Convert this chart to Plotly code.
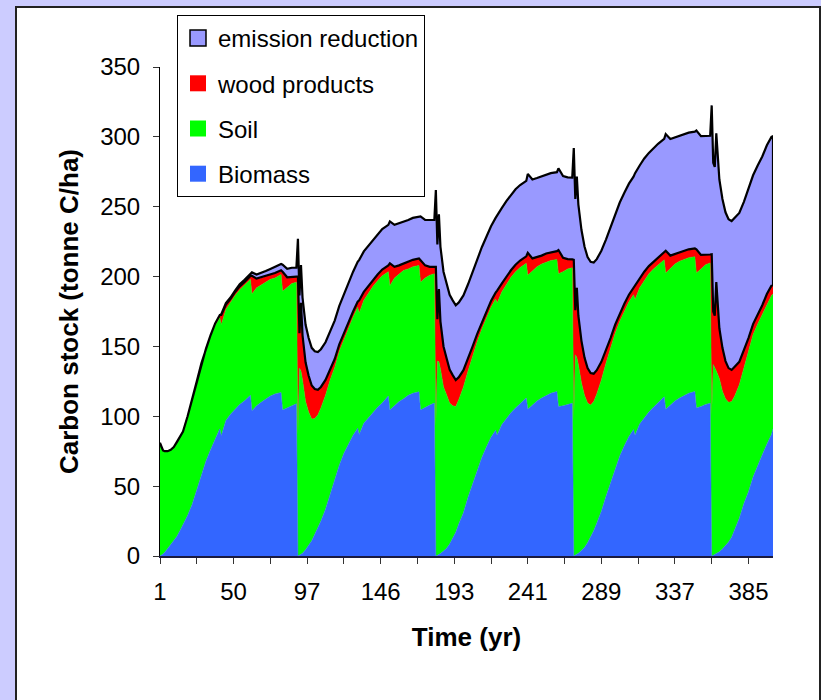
import numpy as np
import plotly.graph_objects as go

# sample years (x categories); five rotations, harvest at 91, 181, 271, 361
years = [
    1, 2, 3, 4, 6, 8, 10, 12, 14, 16, 19, 22, 25, 28, 31, 34, 37, 40, 41, 44, 47, 50, 53, 56, 60, 61, 64, 67, 70, 73, 76, 80, 81, 84, 87, 90,
    91, 92, 93, 94, 96, 98, 100, 102, 104, 106, 109, 112, 115, 118, 121, 124, 127, 130, 131, 134, 137, 140, 143, 146, 150, 151, 154, 157, 160, 163, 166, 170, 171, 174, 177, 180,
    181, 182, 183, 184, 186, 188, 190, 192, 194, 196, 199, 202, 205, 208, 211, 214, 217, 220, 221, 224, 227, 230, 233, 236, 240, 241, 244, 247, 250, 253, 256, 260, 261, 264, 267, 270,
    271, 272, 273, 274, 276, 278, 280, 282, 284, 286, 289, 292, 295, 298, 301, 304, 307, 310, 311, 314, 317, 320, 323, 326, 330, 331, 334, 337, 340, 343, 346, 350, 351, 354, 357, 360,
    361, 362, 363, 364, 366, 368, 370, 372, 374, 376, 379, 382, 385, 388, 391, 394, 397, 400, 401,
]

biomass = [
    0, 0.5, 1.5, 2.5, 5.5, 8, 11, 14, 18, 22, 29, 37, 47, 58, 68, 76, 84, 91, 86, 97, 101.5, 105, 108.5, 111, 115, 104, 107.5, 110, 112.5, 114.5, 116, 117, 104.5, 106, 108, 109,
    0, 0.5, 1.2, 2, 4.5, 7.5, 11, 15.5, 20, 25, 33.5, 44, 53, 65, 73.5, 80.5, 86.5, 91.5, 87, 95, 99, 103, 106.5, 109.5, 114.5, 104.5, 107.5, 110.5, 112.5, 115, 116.5, 117.5, 104.5, 106.5, 108, 109.5,
    0, 0.5, 1, 1.8, 3.5, 5.5, 8.5, 12.5, 17, 23, 31, 42, 52, 62, 70.5, 78, 85, 90, 86.5, 94, 98.5, 102.5, 106, 109, 113, 105, 108, 111, 113, 115, 116.5, 117.7, 107, 107.5, 108.5, 109.3,
    0, 0.5, 1, 2, 4, 6, 9.5, 13.5, 18, 23.5, 32, 42.5, 52.5, 63, 71.5, 79, 85.5, 90.5, 86.5, 94.5, 99, 103, 106.5, 109.5, 114, 105, 108, 111, 113, 115, 116.5, 117.7, 106, 107, 108.5, 109.3,
    0, 0.5, 1, 1.5, 3, 5, 7.5, 10, 13.5, 18.5, 27, 37.5, 46, 56.5, 65, 72.5, 80, 87, 91,
]

soil = [
    81, 77.5, 74, 72.5, 69.5, 68, 67, 67.5, 67, 67, 71, 75, 78, 80, 80, 81, 81, 79.5, 79.5, 79.5, 80, 81.5, 82, 82.5, 83, 83.5, 84.5, 84, 83.5, 83.5, 83, 84.5, 85, 86.5, 87, 87,
    87, 134, 131, 124, 106, 95.5, 87, 83, 81, 81, 81.5, 82, 82, 81.5, 81.5, 83, 84.5, 86.5, 87, 88, 89, 90, 90.5, 91, 89, 89, 91.5, 91.5, 92, 90.5, 90.5, 90.5, 91.5, 92.5, 93, 92.5,
    93, 139, 138, 132, 117.5, 110, 101, 95, 90, 89, 90, 90.5, 91.5, 91.5, 92, 92.5, 93, 94, 94.5, 95, 96, 97, 97.5, 97.5, 96.5, 96, 96, 96, 96, 95.5, 95, 94.5, 95, 96, 97, 97,
    97, 143.5, 141, 135, 120, 109, 100, 94.5, 92.5, 92.5, 94, 95.5, 96.5, 96.5, 96.5, 96.5, 96.5, 96.5, 97, 97.5, 98.5, 99, 99, 99, 98, 97.5, 98, 98, 98, 97.5, 97, 96.5, 96.5, 98.5, 100, 100.5,
    100.5, 136.5, 133, 131, 124, 113, 105, 100, 97, 96, 95.5, 97, 100.5, 102, 101, 100.5, 100.5, 99.5, 96.5,
]

wood_products = [
    0, 0, 0, 0, 0, 0, 0, 0, 0, 0, 0, 0, 0, 0, 0.5, 1, 1.5, 2, 7, 3.5, 2.5, 2.5, 2.5, 2.5, 2.5, 13, 6.5, 5, 4, 3.5, 3.5, 3, 14, 7, 5, 4,
    113, 25, 49, 32, 28, 26, 24, 21, 18, 15, 11, 8, 6, 5, 4.5, 4, 4, 4, 9, 6, 5, 4.5, 4.5, 4.5, 4.5, 16, 8, 6, 5, 5, 5, 5, 16, 9, 6, 5,
    114, 30, 52, 34, 29, 26, 24, 22, 19, 16, 12, 8.5, 6.5, 5.5, 5, 4.5, 4.5, 4.5, 9, 6, 5.5, 5, 5, 5, 5, 16, 9, 7, 6, 6, 6, 6, 17, 10, 7, 6,
    115, 32, 50, 35, 30, 27, 25, 23, 20, 17, 13, 9, 7, 6, 5.5, 5, 5, 5, 9.5, 6.5, 6, 5.5, 5.5, 5.5, 5.5, 16, 9, 7, 6, 6, 6, 6, 17, 10, 7, 6,
    115.5, 38, 38, 63.5, 36, 31, 27, 24.5, 22.7, 21, 16.5, 12.5, 9.5, 7.5, 7, 6.5, 7, 7, 6.5,
]

emission_reduction = [
    0, 0, 0, 0, 0, 0, 0, 0, 0, 0, 0, 0, 0, 0, 0, 0, 0, 0, 0.5, 1, 1, 1, 1.5, 1.5, 1.5, 2.5, 3, 3.5, 4, 4, 4.5, 4.5, 5, 6, 6.3, 6.4,
    27, 27, 27, 27, 27, 27, 27, 27, 27, 27, 27, 27, 27.5, 27.5, 28, 28, 28.5, 28.5, 29, 29, 29, 29, 29, 29, 29, 30, 30, 30, 30, 30, 30, 30, 31, 32.5, 33.5, 33.5,
    55, 53.5, 53.5, 53.5, 53.5, 53.5, 53.5, 53.5, 53.5, 53.5, 53.5, 53.5, 53.5, 53.5, 53.5, 53.5, 53.5, 53.5, 54, 54, 54, 54, 54, 54, 54, 56.5, 56.5, 56.5, 56.5, 56.5, 56.5, 56.5, 58.5, 58.5, 58.5, 58.5,
    80, 79.5, 79.5, 79.5, 79.5, 79.5, 79.5, 79.5, 79.5, 79.5, 79.5, 79.5, 79.5, 79.5, 79.5, 79.5, 79.5, 79.5, 81, 81, 81, 81, 81, 81, 81, 83.5, 83.5, 83.5, 83.5, 83.5, 83.5, 83.5, 85, 85, 85, 85,
    106.5, 106.5, 106.5, 106.5, 106.5, 106.5, 106.5, 106.5, 106.5, 106.5, 106.5, 106.5, 106.5, 106.5, 106.5, 106.5, 106.5, 106.5, 106.5,
]

x_tick_positions = [1, 25, 49, 73, 97, 121, 145, 169, 193, 217, 241, 265, 289, 313, 337, 361, 385]
x_tick_labels = ["1", "", "50", "", "97", "", "146", "", "193", "", "241", "", "289", "", "337", "", "385"]

SERIES_COLORS = {
    "Biomass": "#3366FF",
    "Soil": "#00FF00",
    "wood products": "#FF0000",
    "emission reduction": "#9999FF",
}
FONT = "Liberation Sans, Arial, sans-serif"

fig = go.Figure()

stack = [
    ("Biomass", biomass),
    ("Soil", soil),
    ("wood products", wood_products),
    ("emission reduction", emission_reduction),
]
for name, values in stack:
    fig.add_trace(
        go.Scatter(
            x=years,
            y=values,
            name=name,
            mode="lines",
            stackgroup="carbon",
            line=dict(width=0.5, color=SERIES_COLORS[name]),
            fillcolor=SERIES_COLORS[name],
            showlegend=False,
        )
    )

# black outline of the emission reduction band (top and bottom edge)
wood_top = np.array(biomass) + np.array(soil) + np.array(wood_products)
total = wood_top + np.array(emission_reduction)
fig.add_trace(
    go.Scatter(
        x=years + years[::-1],
        y=list(total) + list(wood_top[::-1]),
        mode="lines",
        line=dict(color="black", width=2.2),
        showlegend=False,
        hoverinfo="skip",
    )
)

# legend swatches, top to bottom as in the original
for name in ["emission reduction", "wood products", "Soil", "Biomass"]:
    outline = dict(color="black", width=1.5) if name == "emission reduction" else dict(width=0)
    fig.add_trace(
        go.Scatter(
            x=[None],
            y=[None],
            name=name,
            mode="markers",
            legendgroup=name,
            marker=dict(symbol="square", size=16, color=SERIES_COLORS[name], line=outline),
        )
    )

L, R, T, B = 160, 48, 67, 144
W, H = 821 - L - R, 700 - T - B

fig.update_layout(
    width=821,
    height=700,
    margin=dict(l=L, r=R, t=T, b=B),
    paper_bgcolor="#CCCCFF",
    plot_bgcolor="white",
    font=dict(family=FONT, size=24, color="black"),
    shapes=[
        dict(
            type="rect",
            xref="paper",
            yref="paper",
            x0=(16 - L) / W,
            x1=(820 - L) / W,
            y0=-0.32,
            y1=(556 - 7) / H,
            fillcolor="white",
            line=dict(color="#222222", width=2),
            layer="below",
        )
    ],
    legend=dict(
        x=(177 - L) / W,
        y=1 + (T - 15) / H,
        xanchor="left",
        yanchor="top",
        bgcolor="white",
        bordercolor="black",
        borderwidth=1,
        font=dict(family=FONT, size=24, color="black"),
        traceorder="grouped",
        tracegroupgap=11,
    ),
    xaxis=dict(
        range=[1, 401],
        tickmode="array",
        tickvals=x_tick_positions,
        ticktext=x_tick_labels,
        ticks="outside",
        ticklen=6,
        tickcolor="#333333",
        showline=True,
        linecolor="#1a1a40",
        linewidth=2,
        showgrid=False,
        zeroline=False,
        ticklabelstandoff=7,
        tickfont=dict(size=24),
        title=dict(text="Time (yr)", font=dict(size=26, weight="bold"), standoff=24),
    ),
    yaxis=dict(
        range=[0, 350],
        dtick=50,
        ticks="outside",
        ticklen=6,
        tickcolor="#333333",
        showline=True,
        linecolor="black",
        linewidth=1,
        showgrid=False,
        zeroline=False,
        ticklabelstandoff=8,
        tickfont=dict(size=24),
        title=dict(text="Carbon stock (tonne C/ha)", font=dict(size=26, weight="bold"), standoff=14),
    ),
)

fig.write_html(
    "out.html",
    config={"displayModeBar": False},
    post_script="document.body.style.margin='0';document.body.style.overflow='hidden';",
)
